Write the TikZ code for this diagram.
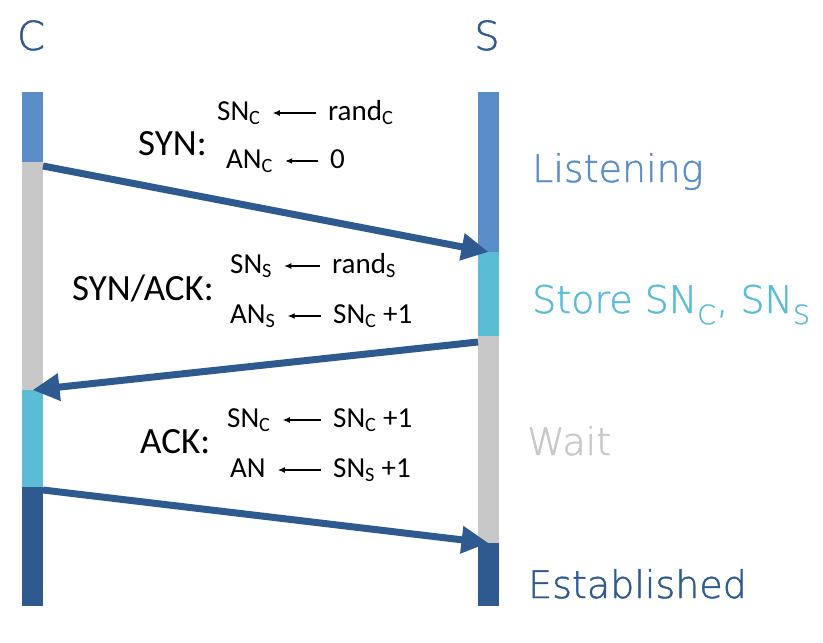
\documentclass[tikz,border=0pt]{standalone}
\usepackage{fontspec}
\setmainfont{Carlito}
\newfontfamily\statefont{DejaVuSans-ExtraLight.ttf}[FakeBold=1.2]
\usetikzlibrary{arrows.meta}
\usetikzlibrary{positioning}

\definecolor{listenblue}{RGB}{91,141,200}
\definecolor{storecyan}{RGB}{91,188,214}
\definecolor{waitgray}{RGB}{200,200,200}
\definecolor{estblue}{RGB}{46,90,143}

\begin{document}
\begin{tikzpicture}[x=1pt, y=-1pt,
    bar/.style={inner sep=0pt, outer sep=0pt, minimum width=21pt},
    msg/.style={inner sep=0pt, anchor=base west, text height=20pt, text depth=6pt, font=\fontsize{29}{32}\selectfont},
    kind/.style={inner sep=0pt, anchor=base west, font=\fontsize{37}{40}\selectfont},
    state/.style={inner sep=0pt, anchor=base west, font=\statefont\fontsize{38}{42}\selectfont},
    packet/.style={line width=7pt, draw=estblue, -{Triangle[length=27pt,width=26pt]}},
    assign/.style={line width=1.2pt, shorten <=12pt, shorten >=12pt, -{Latex[length=7pt,width=6pt]}}]

    \useasboundingbox (0,0) rectangle (823,643);

    % hosts
    \node[state, anchor=base, text=estblue, font=\statefont\fontsize{40}{44}\selectfont] (client) at (31,50) {C};
    \node[state, anchor=base, text=estblue, font=\statefont\fontsize{40}{44}\selectfont] (server) at (487,50) {S};

    % client time line
    \node[bar, fill=listenblue, minimum height=70pt, anchor=north west] (c1) at (22,92) {};
    \node[bar, fill=waitgray, minimum height=228pt, below=0pt of c1] (c2) {};
    \node[bar, fill=storecyan, minimum height=97pt, below=0pt of c2] (c3) {};
    \node[bar, fill=estblue, minimum height=119pt, below=0pt of c3] (c4) {};

    % server time line
    \node[bar, fill=listenblue, minimum height=160pt, anchor=north west] (s1) at (478,92) {};
    \node[bar, fill=storecyan, minimum height=84pt, below=0pt of s1] (s2) {};
    \node[bar, fill=waitgray, minimum height=207pt, below=0pt of s2] (s3) {};
    \node[bar, fill=estblue, minimum height=63pt, below=0pt of s3] (s4) {};

    % packets
    \draw[packet] ([yshift=-4pt]c1.south east) -- (s1.south);
    \draw[packet] ([yshift=-6pt]s2.south west) -- (c3.north);
    \draw[packet] ([yshift=-3pt]c4.north east) -- (s4.north);

    % SYN
    \node[kind] (syn) at (138,155) {SYN:};
    \node[msg] (snc) at (217,120) {SN\textsubscript{C}};
    \node[msg] (randc) at (328,120) {rand\textsubscript{C}};
    \node[msg] (anc) at (226,168) {AN\textsubscript{C}};
    \node[msg] (zero) at (330,168) {0};
    \draw[assign] (randc) -- (snc);
    \draw[assign] (zero) -- (anc);

    % SYN/ACK
    \node[kind] (synack) at (72,300) {SYN/ACK:};
    \node[msg] (sns) at (230,273) {SN\textsubscript{S}};
    \node[msg] (rands) at (332,273) {rand\textsubscript{S}};
    \node[msg] (ans) at (230,323) {AN\textsubscript{S}};
    \node[msg] (sncinc) at (333,323) {SN\textsubscript{C} +1};
    \draw[assign] (rands) -- (sns);
    \draw[assign] (sncinc) -- (ans);

    % ACK
    \node[kind] (ack) at (140,453) {ACK:};
    \node[msg] (sncack) at (227,427) {SN\textsubscript{C}};
    \node[msg] (sncackinc) at (333,427) {SN\textsubscript{C} +1};
    \node[msg] (an) at (230,477) {AN};
    \node[msg] (snsinc) at (333,477) {SN\textsubscript{S} +1};
    \draw[assign] (sncackinc) -- (sncack);
    \draw[assign] (snsinc) -- (an);

    % server states
    \node[state, text=listenblue] (listening) at (532,182) {Listening};
    \node[state, text=storecyan] (store) at (532,313) {Store SN\textsubscript{C}, SN\textsubscript{S}};
    \node[state, text=waitgray] (wait) at (527,455) {Wait};
    \node[state, text=estblue] (established) at (528,598) {Established};

\end{tikzpicture}
\end{document}
